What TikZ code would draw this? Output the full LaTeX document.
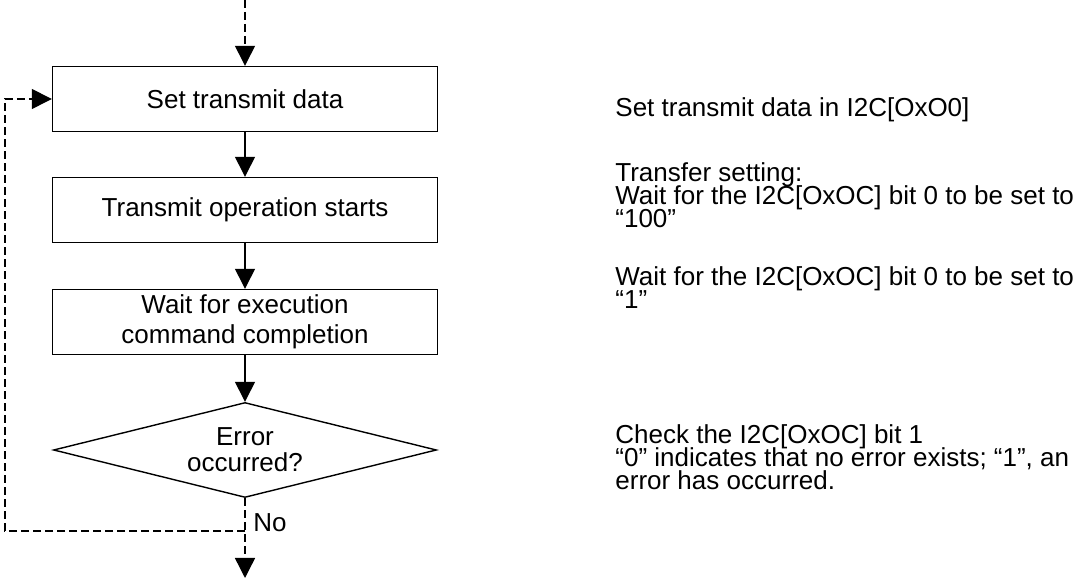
\documentclass[tikz,border=0pt]{standalone}
\usepackage{fontspec}
\setmainfont{Liberation Sans}
\usetikzlibrary{arrows.meta,shapes.geometric}
\setlength{\lineskiplimit}{-20pt}

\begin{document}
\begin{tikzpicture}[x=0.5pt, y=-0.5pt,
  >={Triangle[width=10pt,length=10pt]},
  every node/.style={font=\fontsize{13}{15}\selectfont},
  procbox/.style={draw, line width=0.7pt, minimum width=192.5pt, minimum height=32.5pt,
    align=center, inner sep=0pt},
  decision/.style={draw, diamond, aspect=4, line width=0.7pt, minimum width=191.5pt,
    minimum height=47.5pt, align=center, inner sep=0pt, font=\fontsize{13}{13}\selectfont},
  flow/.style={->, line width=0.7pt},
  flowdash/.style={flow, dash pattern=on 4pt off 2pt},
  note/.style={anchor=west, align=left, inner sep=0pt, font=\fontsize{13}{11.5}\selectfont}]

\useasboundingbox (0,0) rectangle (1086,581);

% flow chart
\node[procbox] (setdata) at (245,99) {Set transmit data};
\node[procbox] (txstart) at (245,210) {Transmit operation starts};
\node[procbox] (waitdone) at (245,322) {Wait for execution\\command completion};
\node[decision] (errchk) at (245,450) {Error\\occurred?};

\coordinate (entry) at (245,0);
\coordinate (exit) at (245,578);
\coordinate (noturn) at (245,531);
\coordinate (backleft) at (5,531);

\draw[flowdash] (entry) -- (setdata);
\foreach \a/\b in {setdata/txstart, txstart/waitdone, waitdone/errchk}
  \draw[flow] (\a) -- (\b);
\draw[flowdash] (errchk) -- (exit);
\draw[flowdash] (noturn) -- (backleft) |- (setdata.west);
\node[anchor=west, inner sep=0pt] (nolbl) at (253,523) {No};

% notes on the right
\node[note] (n1) at (615,110) {Set transmit data in I2C[OxO0]};
\node[note] (n2) at (615,195) {Transfer setting:\\Wait for the I2C[OxOC] bit 0 to be set to\\“100”};
\node[note] (n3) at (615,288) {Wait for the I2C[OxOC] bit 0 to be set to\\“1”};
\node[note] (n4) at (615,457) {Check the I2C[OxOC] bit 1\\“0” indicates that no error exists; “1”, an\\error has occurred.};

\end{tikzpicture}
\end{document}
